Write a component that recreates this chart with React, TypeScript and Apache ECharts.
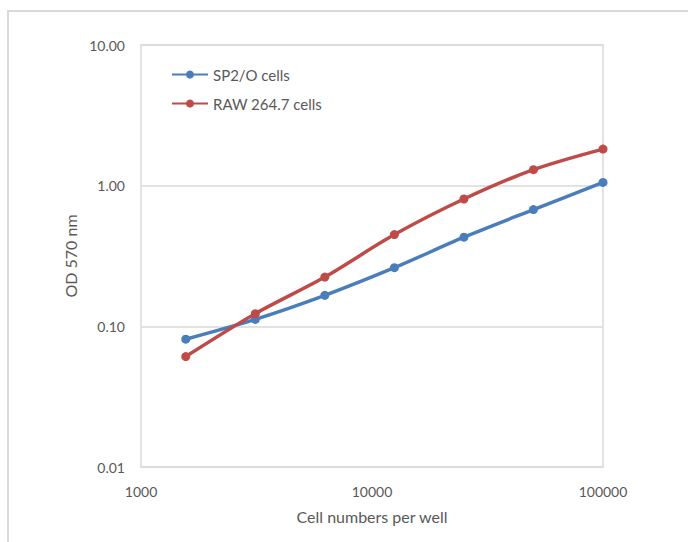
import React, { useEffect, useRef } from "react";
import * as echarts from "echarts";

const cellNumbers = [1562.5, 3125, 6250, 12500, 25000, 50000, 100000];
const sp2oValues = [0.081, 0.112, 0.166, 0.261, 0.43, 0.676, 1.055];
const rawValues = [0.061, 0.123, 0.224, 0.449, 0.804, 1.3, 1.82];
const seriesNames = ["SP2/O cells", "RAW 264.7 cells"];
const xTitle = "Cell numbers per well";
const yTitle = "OD 570 nm";

const FONT = "Lato, 'Open Sans', sans-serif";
const TEXT = "#595959";
const GRID = "#D9D9D9";

export default function App() {
  const ref = useRef<HTMLDivElement>(null);
  useEffect(() => {
    if (!ref.current) return;
    const chart = echarts.init(ref.current, undefined, { renderer: "svg" });
    const mk = (name: string, vals: number[], color: string) => ({
      name,
      type: "line",
      data: cellNumbers.map((x, i) => [x, vals[i]]),
      smooth: 0.3,
      symbol: "circle",
      symbolSize: 9,
      itemStyle: { color },
      lineStyle: { color, width: 3.5 },
    });
    chart.setOption({
      animation: false,
      backgroundColor: "#fff",
      textStyle: { fontFamily: FONT },
      graphic: [
        {
          type: "rect",
          shape: { x: 8, y: 11, width: 720, height: 600 },
          style: { fill: "none", stroke: GRID, lineWidth: 2 },
          silent: true,
        },
      ],
      grid: {
        left: 141,
        right: 85,
        top: 45,
        bottom: 75,
        show: true,
        borderColor: GRID,
        borderWidth: 1.5,
        backgroundColor: "transparent",
      },
      legend: {
        orient: "vertical",
        left: 166,
        top: 62,
        itemWidth: 36,
        itemHeight: 10,
        itemGap: 14,
        textStyle: { color: TEXT, fontSize: 15, fontFamily: FONT },
        data: seriesNames,
      },
      xAxis: {
        type: "log",
        logBase: 10,
        min: 1000,
        max: 100000,
        name: xTitle,
        nameLocation: "middle",
        nameGap: 41,
        nameTextStyle: { color: TEXT, fontSize: 16, fontFamily: FONT },
        axisLine: { show: false },
        axisTick: { show: false },
        splitLine: { show: false },
        axisLabel: {
          color: TEXT,
          fontSize: 14,
          fontFamily: FONT,
          margin: 17,
          formatter: (v: number) => String(Math.round(v)),
        },
      },
      yAxis: {
        type: "log",
        logBase: 10,
        min: 0.01,
        max: 10,
        name: yTitle,
        nameLocation: "middle",
        nameGap: 60,
        nameTextStyle: { color: TEXT, fontSize: 16, fontFamily: FONT },
        axisLine: { show: false },
        axisTick: { show: false },
        splitLine: { show: true, lineStyle: { color: GRID, width: 1.5 } },
        axisLabel: {
          color: TEXT,
          fontSize: 14,
          fontFamily: FONT,
          margin: 16,
          formatter: (v: number) => Number(v).toFixed(2),
        },
      },
      series: [
        mk(seriesNames[0], sp2oValues, "#4A7EBB"),
        mk(seriesNames[1], rawValues, "#BE4B48"),
      ],
    });
    return () => chart.dispose();
  }, []);
  return (
    <div
      ref={ref}
      style={{ position: "fixed", left: 0, top: 0, width: 688, height: 542, background: "#fff" }}
    />
  );
}
